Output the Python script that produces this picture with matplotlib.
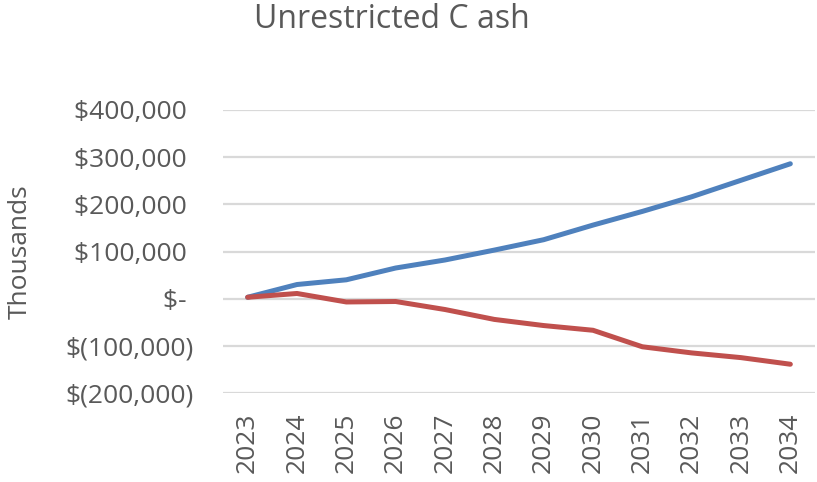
import matplotlib
matplotlib.use("Agg")
import matplotlib.pyplot as plt
from matplotlib.ticker import FuncFormatter

years = ["2023", "2024", "2025", "2026", "2027", "2028", "2029", "2030", "2031", "2032", "2033", "2034"]
blue_vals = [3000, 30000, 40000, 65000, 82000, 103000, 125000, 156000, 185000, 216000, 251000, 286000]
red_vals = [3000, 11000, -7000, -6000, -23000, -44000, -57000, -67000, -102000, -115000, -125000, -139000]
yticks = [-200000, -100000, 0, 100000, 200000, 300000, 400000]

plt.rcParams['font.family'] = ['Open Sans', 'DejaVu Sans']
grey = '#595959'

fig = plt.figure(figsize=(8.17, 4.82), dpi=100)
ax = fig.add_axes([223 / 817, 1 - 393 / 482, 592 / 817, 283 / 482])

x = list(range(len(years)))
ax.plot(x, blue_vals, color='#4F81BD', lw=3.6, solid_capstyle='round', solid_joinstyle='round', zorder=3)
ax.plot(x, red_vals, color='#C0504D', lw=3.6, solid_capstyle='round', solid_joinstyle='round', zorder=3)

def fmt(v, pos):
    if v == 0:
        return "$- "
    if v < 0:
        return "$(" + format(int(-v), ",") + ")"
    return "$" + format(int(v), ",") + " "

ax.set_ylim(-200000, 400000)
ax.set_yticks(yticks)
ax.yaxis.set_major_formatter(FuncFormatter(fmt))
ax.set_xlim(-0.5, len(years) - 0.5)
ax.set_xticks(x)
ax.set_xticklabels(years, rotation=90)

ax.grid(axis='y', color='#d9d9d9', lw=1.6, zorder=0)
for s in ax.spines.values():
    s.set_visible(False)
ax.tick_params(axis='both', length=0, labelsize=19, colors=grey)
ax.tick_params(axis='x', pad=14)
ax.tick_params(axis='y', pad=21)

ax.set_ylabel("Thousands", fontsize=19, color=grey)
ax.yaxis.set_label_coords(-(223 - 20) / 592, 0.5)
ax.yaxis.label.set_va('center')

fig.text(392 / 817, 1 - 28 / 482, "Unrestricted C ash", ha='center', va='baseline', fontsize=23, color=grey)

fig.savefig("out.png", dpi=100)
